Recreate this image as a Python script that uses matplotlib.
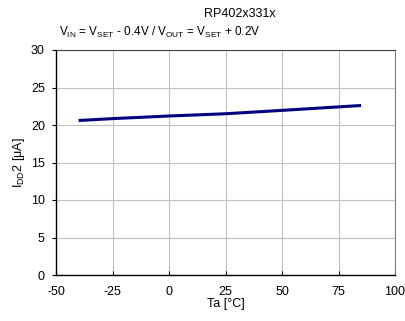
import matplotlib
matplotlib.use("Agg")
import matplotlib.pyplot as plt

plt.rcParams['font.family'] = ['Liberation Sans', 'DejaVu Sans']
plt.rcParams['axes.unicode_minus'] = False

temps = [-40, -25, 0, 25, 50, 85]
idd2 = [20.6, 20.85, 21.2, 21.5, 21.95, 22.6]
xticks = [-50, -25, 0, 25, 50, 75, 100]
yticks = [0, 5, 10, 15, 20, 25, 30]

fig = plt.figure(figsize=(4.06, 3.21), dpi=100)
ax = fig.add_axes([56/406, 1-275/321, (395-56)/406, (275-50)/321])
ax.plot(temps, idd2, color='#000080', lw=2.2, solid_capstyle='butt')
ax.set_xlim(-50, 100)
ax.set_ylim(0, 30)
ax.set_xticks(xticks)
ax.set_yticks(yticks)
ax.grid(True, color='#c0c0c0', lw=0.8)
ax.set_axisbelow(True)
for s in ['left', 'bottom']:
    ax.spines[s].set_color('#000000')
    ax.spines[s].set_linewidth(1.0)
ax.spines['top'].set_color('#404040')
ax.spines['top'].set_linewidth(0.8)
ax.spines['right'].set_color('#808080')
ax.spines['right'].set_linewidth(0.8)
ax.tick_params(axis='x', labelsize=9, direction='in', length=3, width=0.8, pad=8)
ax.tick_params(axis='y', labelsize=9, direction='out', length=3, width=0.8, pad=5)
ax.set_xlabel('Ta [°C]', fontsize=9, labelpad=0)
ax.set_ylabel('I$_{\\mathregular{DD}}$2 [μA]', fontsize=9, labelpad=3)
fig.text(240/406, 1-14/321, 'RP402x331x', fontsize=9, ha='center', va='center')
fig.text(160/406, 1-32/321,
         'V$_{\\mathregular{IN}}$ = V$_{\\mathregular{SET}}$ - 0.4V / V$_{\\mathregular{OUT}}$ = V$_{\\mathregular{SET}}$ + 0.2V',
         fontsize=8.5, ha='center', va='center')
fig.savefig('out.png', dpi=100)
